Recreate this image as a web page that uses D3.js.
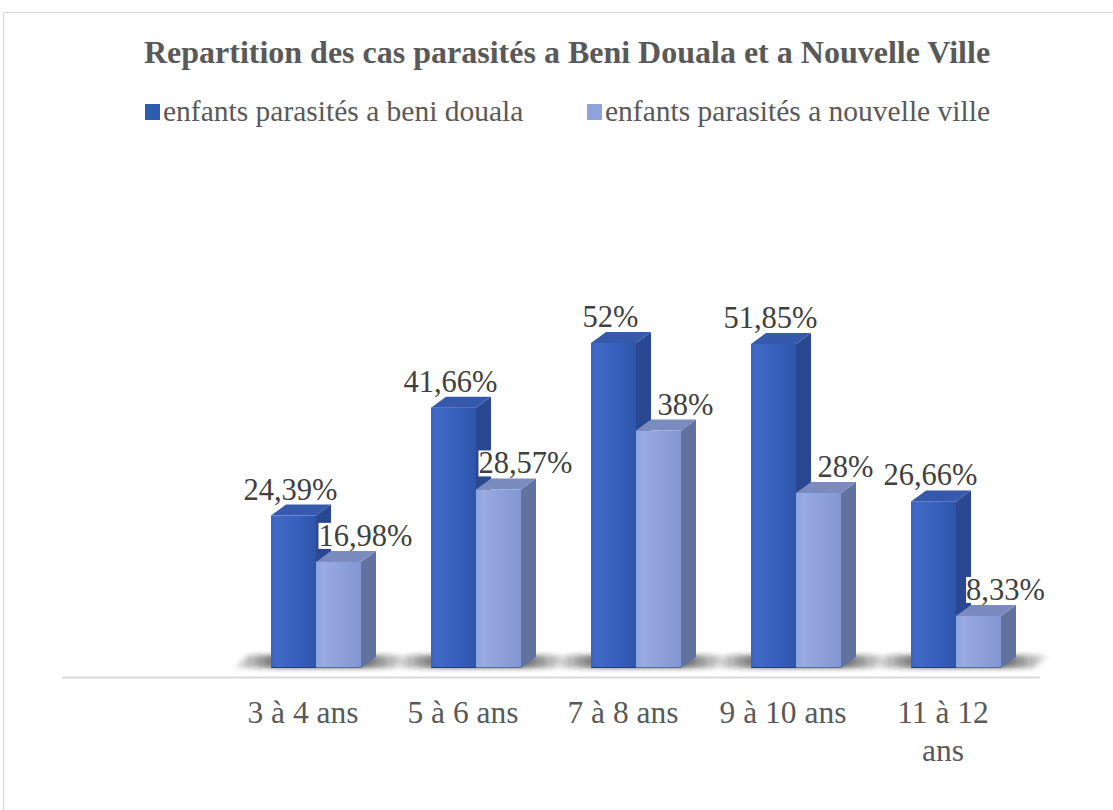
<!DOCTYPE html>
<html>
<head>
<meta charset="utf-8">
<script src="https://cdn.jsdelivr.net/npm/d3@7"></script>
<style>
  html, body { margin: 0; padding: 0; background: #fff; }
  svg { display: block; }
</style>
</head>
<body>
<svg id="chart" width="1113" height="810"></svg>
<script>
const categories = ["3 à 4 ans", "5 à 6 ans", "7 à 8 ans", "9 à 10 ans", "11 à 12 ans"];
const seriesNames = ["enfants parasités a beni douala", "enfants parasités a nouvelle ville"];
const beniDouala = [24.39, 41.66, 52, 51.85, 26.66];
const nouvelleVille = [16.98, 28.57, 38, 28, 8.33];
const labelsBeni = ["24,39%", "41,66%", "52%", "51,85%", "26,66%"];
const labelsNouvelle = ["16,98%", "28,57%", "38%", "28%", "8,33%"];
const title = "Repartition des cas parasités a Beni Douala et a Nouvelle Ville";

const W = 1113, H = 810;
const svg = d3.select("#chart");
const FONT = "'Liberation Serif', 'Times New Roman', serif";

// defs
const defs = svg.append("defs");
function grad(id, stops, x2 = "100%", y2 = "0%") {
  const g = defs.append("linearGradient").attr("id", id)
    .attr("x1", "0%").attr("y1", "0%").attr("x2", x2).attr("y2", y2);
  stops.forEach(s => g.append("stop").attr("offset", s[0]).attr("stop-color", s[1]).attr("stop-opacity", s[2] == null ? 1 : s[2]));
}
grad("frontDark", [["0%", "#3a62c2"], ["15%", "#4169c6"], ["60%", "#3660bb"], ["100%", "#2e55ab"]]);
grad("frontLight", [["0%", "#8ea2dd"], ["15%", "#98abe2"], ["60%", "#8c9fda"], ["100%", "#8497d2"]]);
grad("shadowG", [["0%", "#000", 0], ["30%", "#333", 0.8], ["70%", "#333", 0.8], ["100%", "#000", 0]]);
const blur = defs.append("filter").attr("id", "blur").attr("x", "-20%").attr("y", "-50%").attr("width", "140%").attr("height", "200%");
blur.append("feGaussianBlur").attr("stdDeviation", 2.5);

// border
svg.append("rect").attr("x", 3.5).attr("y", 12.5).attr("width", W - 3).attr("height", H)
  .attr("fill", "#fff").attr("stroke", "#d9d9d9").attr("stroke-width", 1);

// title
svg.append("text").attr("x", 567).attr("y", 63).attr("text-anchor", "middle")
  .attr("font-family", FONT).attr("font-weight", "bold").attr("font-size", 32)
  .attr("fill", "#595959").text(title);

// legend
const legendColors = ["#2f5bb3", "#8fa2da"];
const legendX = [145, 587];
seriesNames.forEach((n, i) => {
  const g = svg.append("g").attr("transform", `translate(${legendX[i]},0)`);
  g.append("rect").attr("x", 0).attr("y", 104).attr("width", 15).attr("height", 16).attr("fill", legendColors[i]);
  g.append("text").attr("x", 18).attr("y", 121).attr("font-family", FONT).attr("font-size", 29.5)
    .attr("fill", "#595959").text(n);
});

// scales
const base = 668;
const y = d3.scaleLinear().domain([0, 60]).range([base, base - 375]);
const x0 = d3.scaleBand().domain(categories).range([236, 1036]).padding(0);
const x1 = d3.scaleBand().domain([0, 1]).range([35, 125]).padding(0);
const dx = 15, dy = 11;

// axis line
svg.append("line").attr("x1", 62).attr("x2", 1040).attr("y1", 677.5).attr("y2", 677.5)
  .attr("stroke", "#d9d9d9").attr("stroke-width", 2);

const data = categories.map((c, i) => ({ c, vals: [beniDouala[i], nouvelleVille[i]], labels: [labelsBeni[i], labelsNouvelle[i]] }));

// floor shadows
data.forEach(d => {
  const gx = x0(d.c) + x1(0);
  const gEnd = x0(d.c) + x1(1) + x1.bandwidth();
  svg.append("polygon")
    .attr("points", [[gx - 40, base], [gx - 22, base - 13], [gEnd + 50, base - 13], [gEnd + 32, base]].map(p => p.join(",")).join(" "))
    .attr("fill", "url(#shadowG)").attr("filter", "url(#blur)");
});

const styles = [
  { front: "url(#frontDark)", side: "#2a4891", top: "#3759ab", edge: "#213d80" },
  { front: "url(#frontLight)", side: "#61729f", top: "#7b8bc0", edge: "#5a6a97" }
];

data.forEach(d => {
  const g = svg.append("g").attr("transform", `translate(${x0(d.c)},0)`);
  d.vals.forEach((v, s) => {
    const bx = x1(s), bw = x1.bandwidth(), by = y(v);
    const st = styles[s];
    g.append("polygon")
      .attr("points", [[bx + bw, by], [bx + bw + dx, by - dy], [bx + bw + dx, base - dy], [bx + bw, base]].map(p => p.join(",")).join(" "))
      .attr("fill", st.side);
    g.append("polygon")
      .attr("points", [[bx, by], [bx + dx, by - dy], [bx + bw + dx, by - dy], [bx + bw, by]].map(p => p.join(",")).join(" "))
      .attr("fill", st.top);
    g.append("rect").attr("x", bx).attr("y", by).attr("width", bw).attr("height", base - by)
      .attr("fill", st.front);
    g.append("line").attr("x1", bx).attr("x2", bx + bw).attr("y1", base - 0.5).attr("y2", base - 0.5)
      .attr("stroke", st.edge).attr("stroke-width", 1);
  });
});

// data labels
data.forEach(d => {
  d.vals.forEach((v, s) => {
    const bx = x0(d.c) + x1(s) + x1.bandwidth() / 2 + (s === 0 ? -3 : 27);
    const by = y(v) - 16;
    const t = svg.append("text").attr("x", bx).attr("y", by).attr("text-anchor", "middle")
      .attr("font-family", FONT).attr("font-size", 30.5).attr("fill", "#404040").text(d.labels[s]);
    if (s === 1) {
      const bb = t.node().getBBox();
      svg.insert("rect", () => t.node()).attr("x", bb.x).attr("y", bb.y + 4).attr("width", bb.width).attr("height", bb.height - 8)
        .attr("fill", "#fff");
    }
  });
});

// category labels
data.forEach(d => {
  const cx = x0(d.c) + x0.bandwidth() / 2 - 13;
  const words = d.c.split(" ");
  const lines = d.c.length > 10 ? [words.slice(0, 3).join(" "), words.slice(3).join(" ")] : [d.c];
  const t = svg.append("text").attr("text-anchor", "middle")
    .attr("font-family", FONT).attr("font-size", 31.5).attr("fill", "#595959");
  lines.forEach((l, i) => t.append("tspan").attr("x", cx).attr("y", 723 + i * 38).text(l));
});
</script>
</body>
</html>
